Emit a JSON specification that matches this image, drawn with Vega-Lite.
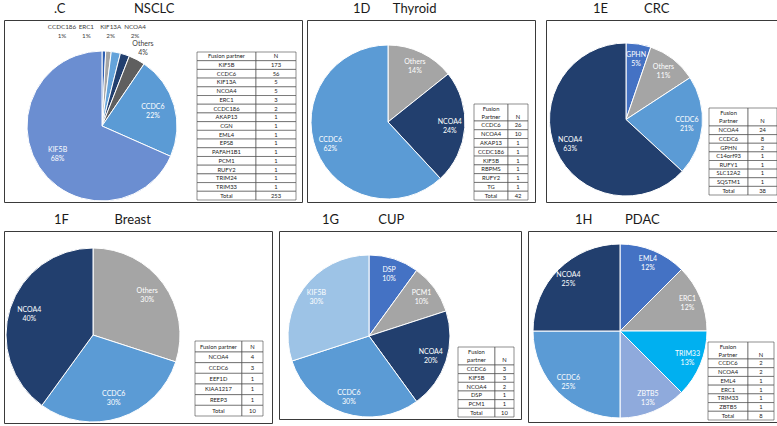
{
"$schema":"https://vega.github.io/schema/vega-lite/v6.json",
"padding":{"left":3,"top":2,"right":0,"bottom":0},
"background":"white",
"datasets":{
"nsclc":[{"partner":"CCDC186","n":2,"pct":"1%","ord":1},{"partner":"ERC1","n":3,"pct":"1%","ord":2},{"partner":"KIF13A","n":5,"pct":"2%","ord":3},{"partner":"NCOA4","n":5,"pct":"2%","ord":4},{"partner":"Others","n":9,"pct":"4%","ord":5},{"partner":"CCDC6","n":56,"pct":"22%","ord":6},{"partner":"KIF5B","n":173,"pct":"68%","ord":7}],
"nsclc_tab":[{"p":"KIF5B","n":"173"},{"p":"CCDC6","n":"56"},{"p":"KIF13A","n":"5"},{"p":"NCOA4","n":"5"},{"p":"ERC1","n":"3"},{"p":"CCDC186","n":"2"},{"p":"AKAP13","n":"1"},{"p":"CGN","n":"1"},{"p":"EML4","n":"1"},{"p":"EPS8","n":"1"},{"p":"PAFAH1B1","n":"1"},{"p":"PCM1","n":"1"},{"p":"RUFY2","n":"1"},{"p":"TRIM24","n":"1"},{"p":"TRIM33","n":"1"},{"p":"Total","n":"253"}],
"thy":[{"partner":"Others","n":6,"pct":"14%","ord":1},{"partner":"NCOA4","n":10,"pct":"24%","ord":2},{"partner":"CCDC6","n":26,"pct":"62%","ord":3}],
"thy_tab":[{"p":"CCDC6","n":"26"},{"p":"NCOA4","n":"10"},{"p":"AKAP13","n":"1"},{"p":"CCDC186","n":"1"},{"p":"KIF5B","n":"1"},{"p":"RBPMS","n":"1"},{"p":"RUFY2","n":"1"},{"p":"TG","n":"1"},{"p":"Total","n":"42"}],
"crc":[{"partner":"GPHN","n":2,"pct":"5%","ord":1},{"partner":"Others","n":4,"pct":"11%","ord":2},{"partner":"CCDC6","n":8,"pct":"21%","ord":3},{"partner":"NCOA4","n":24,"pct":"63%","ord":4}],
"crc_tab":[{"p":"NCOA4","n":"24"},{"p":"CCDC6","n":"8"},{"p":"GPHN","n":"2"},{"p":"C14orf93","n":"1"},{"p":"RUFY1","n":"1"},{"p":"SLC12A2","n":"1"},{"p":"SQSTM1","n":"1"},{"p":"Total","n":"38"}],
"br":[{"partner":"Others","n":3,"pct":"30%","ord":1},{"partner":"CCDC6","n":3,"pct":"30%","ord":2},{"partner":"NCOA4","n":4,"pct":"40%","ord":3}],
"br_tab":[{"p":"NCOA4","n":"4"},{"p":"CCDC6","n":"3"},{"p":"EEF1D","n":"1"},{"p":"KIAA1217","n":"1"},{"p":"REEP3","n":"1"},{"p":"Total","n":"10"}],
"cup":[{"partner":"DSP","n":1,"pct":"10%","ord":1},{"partner":"PCM1","n":1,"pct":"10%","ord":2},{"partner":"NCOA4","n":2,"pct":"20%","ord":3},{"partner":"CCDC6","n":3,"pct":"30%","ord":4},{"partner":"KIF5B","n":3,"pct":"30%","ord":5}],
"cup_tab":[{"p":"CCDC6","n":"3"},{"p":"KIF5B","n":"3"},{"p":"NCOA4","n":"2"},{"p":"DSP","n":"1"},{"p":"PCM1","n":"1"},{"p":"Total","n":"10"}],
"pdac":[{"partner":"EML4","n":1,"pct":"12%","ord":1},{"partner":"ERC1","n":1,"pct":"12%","ord":2},{"partner":"TRIM33","n":1,"pct":"13%","ord":3},{"partner":"ZBTB5","n":1,"pct":"13%","ord":4},{"partner":"CCDC6","n":2,"pct":"25%","ord":5},{"partner":"NCOA4","n":2,"pct":"25%","ord":6}],
"pdac_tab":[{"p":"CCDC6","n":"2"},{"p":"NCOA4","n":"2"},{"p":"EML4","n":"1"},{"p":"ERC1","n":"1"},{"p":"TRIM33","n":"1"},{"p":"ZBTB5","n":"1"},{"p":"Total","n":"8"}],
"hdr1":[{"h1":"Fusion partner","n":"N"}],
"hdr2":[{"h1":"Fusion","h2":"Partner","n":"N"}],
"hdr2l":[{"h1":"Fusion","h2":"partner","n":"N"}]
},
"vconcat":[
{"hconcat":[
 {"width":298,"height":182,
  "title":{"text":".C\u2003\u2003\u2003\u2003\u2003\u2003\u00a0\u00a0\u00a0NSCLC","dx":50},
  "layer":[
   {"data":{"name":"nsclc"},"mark":{"type":"arc","x":98,"y":106,"outerRadius":75},
    "encoding":{"theta":{"field":"n","type":"quantitative","stack":true},"order":{"field":"ord","type":"quantitative"},
     "color":{"field":"partner","type":"nominal","legend":null,"scale":{"domain":["CCDC186","ERC1","KIF13A","NCOA4","Others","CCDC6","KIF5B"],"range":["#2E5FB3","#A5A5A5","#64A3DA","#223F6E","#5F5F5F","#5B9BD5","#6B8ED1"]}}}},
   {"data":{"name":"nsclc"},"mark":{"type":"text","x":98,"y":106,"radius":53,"dy":-4.5,"fill":"white","fontSize":7},
    "encoding":{"theta":{"field":"n","type":"quantitative","stack":true},"order":{"field":"ord","type":"quantitative"},"text":{"condition":{"test":"datum.n >= 50","field":"partner","type":"nominal"},"value":""}}},
   {"data":{"name":"nsclc"},"mark":{"type":"text","x":98,"y":106,"radius":53,"dy":4.5,"fill":"white","fontSize":7},
    "encoding":{"theta":{"field":"n","type":"quantitative","stack":true},"order":{"field":"ord","type":"quantitative"},"text":{"condition":{"test":"datum.n >= 50","field":"pct","type":"nominal"},"value":""}}},
   {"data":{"name":"nsclc"},"mark":{"type":"text","x":98,"y":106,"radius":88,"dy":-4.5,"fill":"#404040","fontSize":7},
    "encoding":{"theta":{"field":"n","type":"quantitative","stack":true},"order":{"field":"ord","type":"quantitative"},"text":{"condition":{"test":"datum.partner == 'Others'","field":"partner","type":"nominal"},"value":""}}},
   {"data":{"name":"nsclc"},"mark":{"type":"text","x":98,"y":106,"radius":88,"dy":4.5,"fill":"#404040","fontSize":7},
    "encoding":{"theta":{"field":"n","type":"quantitative","stack":true},"order":{"field":"ord","type":"quantitative"},"text":{"condition":{"test":"datum.partner == 'Others'","field":"pct","type":"nominal"},"value":""}}},
   {"data":{"name":"nsclc"},"transform":[{"filter":"datum.ord <= 4"}],"mark":{"type":"text","y":7,"fill":"#404040","fontSize":6.3},
    "encoding":{"x":{"field":"partner","type":"nominal","sort":null,"scale":{"type":"point","range":[58,131],"padding":0},"axis":null},"text":{"field":"partner"}}},
   {"data":{"name":"nsclc"},"transform":[{"filter":"datum.ord <= 4"}],"mark":{"type":"text","y":15.5,"fill":"#404040","fontSize":6.3},
    "encoding":{"x":{"field":"partner","type":"nominal","sort":null,"scale":{"type":"point","range":[58,131],"padding":0},"axis":null},"text":{"field":"pct"}}},
   {"data":{"name":"hdr1"},"mark":"rect","encoding":{"x":{"datum":0,"type":"quantitative","scale":{"domain":[0,1],"range":[193,292]},"axis":null},"x2":{"datum":0.596},"y":{"datum":0,"type":"quantitative","scale":{"domain":[0,1],"range":[32,40.7]},"axis":null},"y2":{"datum":1}}},
   {"data":{"name":"hdr1"},"mark":"rect","encoding":{"x":{"datum":0.596,"type":"quantitative","scale":{"domain":[0,1],"range":[193,292]},"axis":null},"x2":{"datum":1},"y":{"datum":0,"type":"quantitative","scale":{"domain":[0,1],"range":[32,40.7]},"axis":null},"y2":{"datum":1}}},
   {"data":{"name":"hdr1"},"mark":"text","encoding":{"x":{"datum":0.298,"type":"quantitative","scale":{"domain":[0,1],"range":[193,292]},"axis":null},"y":{"datum":0.5,"type":"quantitative","scale":{"domain":[0,1],"range":[32,40.7]},"axis":null},"text":{"field":"h1"}}},
   {"data":{"name":"hdr1"},"mark":"text","encoding":{"x":{"datum":0.798,"type":"quantitative","scale":{"domain":[0,1],"range":[193,292]},"axis":null},"y":{"datum":0.5,"type":"quantitative","scale":{"domain":[0,1],"range":[32,40.7]},"axis":null},"text":{"field":"n"}}},
   {"data":{"name":"nsclc_tab"},"mark":"rect","encoding":{"x":{"datum":0,"type":"quantitative","scale":{"domain":[0,1],"range":[193,292]},"axis":null},"x2":{"datum":0.596},"y":{"field":"p","type":"nominal","sort":null,"scale":{"type":"band","range":[40.7,180],"paddingInner":0,"paddingOuter":0},"axis":null}}},
   {"data":{"name":"nsclc_tab"},"mark":"rect","encoding":{"x":{"datum":0.596,"type":"quantitative","scale":{"domain":[0,1],"range":[193,292]},"axis":null},"x2":{"datum":1},"y":{"field":"p","type":"nominal","sort":null,"scale":{"type":"band","range":[40.7,180],"paddingInner":0,"paddingOuter":0},"axis":null}}},
   {"data":{"name":"nsclc_tab"},"mark":"text","encoding":{"x":{"datum":0.298,"type":"quantitative","scale":{"domain":[0,1],"range":[193,292]},"axis":null},"y":{"field":"p","type":"nominal","sort":null,"scale":{"type":"band","range":[40.7,180],"paddingInner":0,"paddingOuter":0},"axis":null},"text":{"field":"p"}}},
   {"data":{"name":"nsclc_tab"},"mark":"text","encoding":{"x":{"datum":0.798,"type":"quantitative","scale":{"domain":[0,1],"range":[193,292]},"axis":null},"y":{"field":"p","type":"nominal","sort":null,"scale":{"type":"band","range":[40.7,180],"paddingInner":0,"paddingOuter":0},"axis":null},"text":{"field":"n"}}}
  ],
  "resolve":{"scale":{"x":"independent","y":"independent"}}
 },
 {"hconcat":[
  {"width":228,"height":182,
   "title":{"text":"1D\u2003\u2003\u00a0Thyroid","dx":46},
   "layer":[
    {"data":{"name":"thy"},"mark":{"type":"arc","x":81,"y":102,"outerRadius":77},
     "encoding":{"theta":{"field":"n","type":"quantitative","stack":true},"order":{"field":"ord","type":"quantitative"},
      "color":{"field":"partner","type":"nominal","legend":null,"scale":{"domain":["Others","NCOA4","CCDC6"],"range":["#A5A5A5","#223F6E","#5B9BD5"]}}}},
    {"data":{"name":"thy"},"mark":{"type":"text","x":81,"y":102,"radius":62,"dy":-4.5,"fill":"white","fontSize":7},
     "encoding":{"theta":{"field":"n","type":"quantitative","stack":true},"order":{"field":"ord","type":"quantitative"},"text":{"field":"partner"}}},
    {"data":{"name":"thy"},"mark":{"type":"text","x":81,"y":102,"radius":62,"dy":4.5,"fill":"white","fontSize":7},
     "encoding":{"theta":{"field":"n","type":"quantitative","stack":true},"order":{"field":"ord","type":"quantitative"},"text":{"field":"pct"}}},
    {"data":{"name":"hdr2"},"mark":"rect","encoding":{"x":{"datum":0,"type":"quantitative","scale":{"domain":[0,1],"range":[167,221]},"axis":null},"x2":{"datum":0.63},"y":{"datum":0,"type":"quantitative","scale":{"domain":[0,1],"range":[84,101]},"axis":null},"y2":{"datum":1}}},
    {"data":{"name":"hdr2"},"mark":"rect","encoding":{"x":{"datum":0.63,"type":"quantitative","scale":{"domain":[0,1],"range":[167,221]},"axis":null},"x2":{"datum":1},"y":{"datum":0,"type":"quantitative","scale":{"domain":[0,1],"range":[84,101]},"axis":null},"y2":{"datum":1}}},
    {"data":{"name":"hdr2"},"mark":"text","encoding":{"x":{"datum":0.315,"type":"quantitative","scale":{"domain":[0,1],"range":[167,221]},"axis":null},"y":{"datum":0.27,"type":"quantitative","scale":{"domain":[0,1],"range":[84,101]},"axis":null},"text":{"field":"h1"}}},
    {"data":{"name":"hdr2"},"mark":"text","encoding":{"x":{"datum":0.315,"type":"quantitative","scale":{"domain":[0,1],"range":[167,221]},"axis":null},"y":{"datum":0.74,"type":"quantitative","scale":{"domain":[0,1],"range":[84,101]},"axis":null},"text":{"field":"h2"}}},
    {"data":{"name":"hdr2"},"mark":"text","encoding":{"x":{"datum":0.815,"type":"quantitative","scale":{"domain":[0,1],"range":[167,221]},"axis":null},"y":{"datum":0.74,"type":"quantitative","scale":{"domain":[0,1],"range":[84,101]},"axis":null},"text":{"field":"n"}}},
    {"data":{"name":"thy_tab"},"mark":"rect","encoding":{"x":{"datum":0,"type":"quantitative","scale":{"domain":[0,1],"range":[167,221]},"axis":null},"x2":{"datum":0.63},"y":{"field":"p","type":"nominal","sort":null,"scale":{"type":"band","range":[101,180],"paddingInner":0,"paddingOuter":0},"axis":null}}},
    {"data":{"name":"thy_tab"},"mark":"rect","encoding":{"x":{"datum":0.63,"type":"quantitative","scale":{"domain":[0,1],"range":[167,221]},"axis":null},"x2":{"datum":1},"y":{"field":"p","type":"nominal","sort":null,"scale":{"type":"band","range":[101,180],"paddingInner":0,"paddingOuter":0},"axis":null}}},
    {"data":{"name":"thy_tab"},"mark":"text","encoding":{"x":{"datum":0.315,"type":"quantitative","scale":{"domain":[0,1],"range":[167,221]},"axis":null},"y":{"field":"p","type":"nominal","sort":null,"scale":{"type":"band","range":[101,180],"paddingInner":0,"paddingOuter":0},"axis":null},"text":{"field":"p"}}},
    {"data":{"name":"thy_tab"},"mark":"text","encoding":{"x":{"datum":0.815,"type":"quantitative","scale":{"domain":[0,1],"range":[167,221]},"axis":null},"y":{"field":"p","type":"nominal","sort":null,"scale":{"type":"band","range":[101,180],"paddingInner":0,"paddingOuter":0},"axis":null},"text":{"field":"n"}}}
   ],
   "resolve":{"scale":{"x":"independent","y":"independent"}}
  },
  {"width":235,"height":182,
   "title":{"text":"1E\u2003\u2003\u2003\u00a0\u00a0CRC","dx":47},
   "layer":[
    {"data":{"name":"crc"},"mark":{"type":"arc","x":80,"y":99.5,"outerRadius":76.5},
     "encoding":{"theta":{"field":"n","type":"quantitative","stack":true},"order":{"field":"ord","type":"quantitative"},
      "color":{"field":"partner","type":"nominal","legend":null,"scale":{"domain":["GPHN","Others","CCDC6","NCOA4"],"range":["#4472C4","#A5A5A5","#5B9BD5","#223F6E"]}}}},
    {"data":{"name":"crc"},"mark":{"type":"text","x":80,"y":99.5,"radius":61,"dy":-4.5,"fill":"white","fontSize":7},
     "encoding":{"theta":{"field":"n","type":"quantitative","stack":true},"order":{"field":"ord","type":"quantitative"},"text":{"field":"partner"}}},
    {"data":{"name":"crc"},"mark":{"type":"text","x":80,"y":99.5,"radius":61,"dy":4.5,"fill":"white","fontSize":7},
     "encoding":{"theta":{"field":"n","type":"quantitative","stack":true},"order":{"field":"ord","type":"quantitative"},"text":{"field":"pct"}}},
    {"data":{"name":"hdr2"},"mark":"rect","encoding":{"x":{"datum":0,"type":"quantitative","scale":{"domain":[0,1],"range":[163,231]},"axis":null},"x2":{"datum":0.574},"y":{"datum":0,"type":"quantitative","scale":{"domain":[0,1],"range":[88,106]},"axis":null},"y2":{"datum":1}}},
    {"data":{"name":"hdr2"},"mark":"rect","encoding":{"x":{"datum":0.574,"type":"quantitative","scale":{"domain":[0,1],"range":[163,231]},"axis":null},"x2":{"datum":1},"y":{"datum":0,"type":"quantitative","scale":{"domain":[0,1],"range":[88,106]},"axis":null},"y2":{"datum":1}}},
    {"data":{"name":"hdr2"},"mark":"text","encoding":{"x":{"datum":0.287,"type":"quantitative","scale":{"domain":[0,1],"range":[163,231]},"axis":null},"y":{"datum":0.27,"type":"quantitative","scale":{"domain":[0,1],"range":[88,106]},"axis":null},"text":{"field":"h1"}}},
    {"data":{"name":"hdr2"},"mark":"text","encoding":{"x":{"datum":0.287,"type":"quantitative","scale":{"domain":[0,1],"range":[163,231]},"axis":null},"y":{"datum":0.74,"type":"quantitative","scale":{"domain":[0,1],"range":[88,106]},"axis":null},"text":{"field":"h2"}}},
    {"data":{"name":"hdr2"},"mark":"text","encoding":{"x":{"datum":0.787,"type":"quantitative","scale":{"domain":[0,1],"range":[163,231]},"axis":null},"y":{"datum":0.74,"type":"quantitative","scale":{"domain":[0,1],"range":[88,106]},"axis":null},"text":{"field":"n"}}},
    {"data":{"name":"crc_tab"},"mark":"rect","encoding":{"x":{"datum":0,"type":"quantitative","scale":{"domain":[0,1],"range":[163,231]},"axis":null},"x2":{"datum":0.574},"y":{"field":"p","type":"nominal","sort":null,"scale":{"type":"band","range":[106,175],"paddingInner":0,"paddingOuter":0},"axis":null}}},
    {"data":{"name":"crc_tab"},"mark":"rect","encoding":{"x":{"datum":0.574,"type":"quantitative","scale":{"domain":[0,1],"range":[163,231]},"axis":null},"x2":{"datum":1},"y":{"field":"p","type":"nominal","sort":null,"scale":{"type":"band","range":[106,175],"paddingInner":0,"paddingOuter":0},"axis":null}}},
    {"data":{"name":"crc_tab"},"mark":"text","encoding":{"x":{"datum":0.287,"type":"quantitative","scale":{"domain":[0,1],"range":[163,231]},"axis":null},"y":{"field":"p","type":"nominal","sort":null,"scale":{"type":"band","range":[106,175],"paddingInner":0,"paddingOuter":0},"axis":null},"text":{"field":"p"}}},
    {"data":{"name":"crc_tab"},"mark":"text","encoding":{"x":{"datum":0.787,"type":"quantitative","scale":{"domain":[0,1],"range":[163,231]},"axis":null},"y":{"field":"p","type":"nominal","sort":null,"scale":{"type":"band","range":[106,175],"paddingInner":0,"paddingOuter":0},"axis":null},"text":{"field":"n"}}}
   ],
   "resolve":{"scale":{"x":"independent","y":"independent"}}
  }
 ],"spacing":9,"resolve":{"scale":{"color":"independent","theta":"independent"}}}
],"spacing":3,"resolve":{"scale":{"color":"independent","theta":"independent"}}},
{"hconcat":[
 {"width":268,"height":192,
  "title":{"text":"1F\u2003\u2003\u2003\u2003\u00a0\u00a0Breast","dx":50},
  "layer":[
   {"data":{"name":"br"},"mark":{"type":"arc","x":89,"y":104,"outerRadius":87},
    "encoding":{"theta":{"field":"n","type":"quantitative","stack":true},"order":{"field":"ord","type":"quantitative"},
     "color":{"field":"partner","type":"nominal","legend":null,"scale":{"domain":["Others","CCDC6","NCOA4"],"range":["#A5A5A5","#5B9BD5","#223F6E"]}}}},
   {"data":{"name":"br"},"mark":{"type":"text","x":89,"y":104,"radius":67,"dy":-4.5,"fill":"white","fontSize":7},
    "encoding":{"theta":{"field":"n","type":"quantitative","stack":true},"order":{"field":"ord","type":"quantitative"},"text":{"field":"partner"}}},
   {"data":{"name":"br"},"mark":{"type":"text","x":89,"y":104,"radius":67,"dy":4.5,"fill":"white","fontSize":7},
    "encoding":{"theta":{"field":"n","type":"quantitative","stack":true},"order":{"field":"ord","type":"quantitative"},"text":{"field":"pct"}}},
   {"data":{"name":"hdr1"},"mark":"rect","encoding":{"x":{"datum":0,"type":"quantitative","scale":{"domain":[0,1],"range":[191,259]},"axis":null},"x2":{"datum":0.69},"y":{"datum":0,"type":"quantitative","scale":{"domain":[0,1],"range":[110,121]},"axis":null},"y2":{"datum":1}}},
   {"data":{"name":"hdr1"},"mark":"rect","encoding":{"x":{"datum":0.69,"type":"quantitative","scale":{"domain":[0,1],"range":[191,259]},"axis":null},"x2":{"datum":1},"y":{"datum":0,"type":"quantitative","scale":{"domain":[0,1],"range":[110,121]},"axis":null},"y2":{"datum":1}}},
   {"data":{"name":"hdr1"},"mark":"text","encoding":{"x":{"datum":0.345,"type":"quantitative","scale":{"domain":[0,1],"range":[191,259]},"axis":null},"y":{"datum":0.5,"type":"quantitative","scale":{"domain":[0,1],"range":[110,121]},"axis":null},"text":{"field":"h1"}}},
   {"data":{"name":"hdr1"},"mark":"text","encoding":{"x":{"datum":0.845,"type":"quantitative","scale":{"domain":[0,1],"range":[191,259]},"axis":null},"y":{"datum":0.5,"type":"quantitative","scale":{"domain":[0,1],"range":[110,121]},"axis":null},"text":{"field":"n"}}},
   {"data":{"name":"br_tab"},"mark":"rect","encoding":{"x":{"datum":0,"type":"quantitative","scale":{"domain":[0,1],"range":[191,259]},"axis":null},"x2":{"datum":0.69},"y":{"field":"p","type":"nominal","sort":null,"scale":{"type":"band","range":[121,185],"paddingInner":0,"paddingOuter":0},"axis":null}}},
   {"data":{"name":"br_tab"},"mark":"rect","encoding":{"x":{"datum":0.69,"type":"quantitative","scale":{"domain":[0,1],"range":[191,259]},"axis":null},"x2":{"datum":1},"y":{"field":"p","type":"nominal","sort":null,"scale":{"type":"band","range":[121,185],"paddingInner":0,"paddingOuter":0},"axis":null}}},
   {"data":{"name":"br_tab"},"mark":"text","encoding":{"x":{"datum":0.345,"type":"quantitative","scale":{"domain":[0,1],"range":[191,259]},"axis":null},"y":{"field":"p","type":"nominal","sort":null,"scale":{"type":"band","range":[121,185],"paddingInner":0,"paddingOuter":0},"axis":null},"text":{"field":"p"}}},
   {"data":{"name":"br_tab"},"mark":"text","encoding":{"x":{"datum":0.845,"type":"quantitative","scale":{"domain":[0,1],"range":[191,259]},"axis":null},"y":{"field":"p","type":"nominal","sort":null,"scale":{"type":"band","range":[121,185],"paddingInner":0,"paddingOuter":0},"axis":null},"text":{"field":"n"}}}
  ],
  "resolve":{"scale":{"x":"independent","y":"independent"}}
 },
 {"width":242,"height":188,
  "title":{"text":"1G\u2003\u2003\u2003\u00a0\u00a0\u00a0CUP","dx":43},
  "layer":[
   {"data":{"name":"cup"},"mark":{"type":"arc","x":90,"y":105,"outerRadius":81},
    "encoding":{"theta":{"field":"n","type":"quantitative","stack":true},"order":{"field":"ord","type":"quantitative"},
     "color":{"field":"partner","type":"nominal","legend":null,"scale":{"domain":["DSP","PCM1","NCOA4","CCDC6","KIF5B"],"range":["#4472C4","#A5A5A5","#223F6E","#5B9BD5","#9DC3E6"]}}}},
   {"data":{"name":"cup"},"mark":{"type":"text","x":90,"y":105,"radius":65,"dy":-4.5,"fill":"white","fontSize":7},
    "encoding":{"theta":{"field":"n","type":"quantitative","stack":true},"order":{"field":"ord","type":"quantitative"},"text":{"field":"partner"}}},
   {"data":{"name":"cup"},"mark":{"type":"text","x":90,"y":105,"radius":65,"dy":4.5,"fill":"white","fontSize":7},
    "encoding":{"theta":{"field":"n","type":"quantitative","stack":true},"order":{"field":"ord","type":"quantitative"},"text":{"field":"pct"}}},
   {"data":{"name":"hdr2l"},"mark":"rect","encoding":{"x":{"datum":0,"type":"quantitative","scale":{"domain":[0,1],"range":[179,235]},"axis":null},"x2":{"datum":0.66},"y":{"datum":0,"type":"quantitative","scale":{"domain":[0,1],"range":[116,134]},"axis":null},"y2":{"datum":1}}},
   {"data":{"name":"hdr2l"},"mark":"rect","encoding":{"x":{"datum":0.66,"type":"quantitative","scale":{"domain":[0,1],"range":[179,235]},"axis":null},"x2":{"datum":1},"y":{"datum":0,"type":"quantitative","scale":{"domain":[0,1],"range":[116,134]},"axis":null},"y2":{"datum":1}}},
   {"data":{"name":"hdr2l"},"mark":"text","encoding":{"x":{"datum":0.33,"type":"quantitative","scale":{"domain":[0,1],"range":[179,235]},"axis":null},"y":{"datum":0.27,"type":"quantitative","scale":{"domain":[0,1],"range":[116,134]},"axis":null},"text":{"field":"h1"}}},
   {"data":{"name":"hdr2l"},"mark":"text","encoding":{"x":{"datum":0.33,"type":"quantitative","scale":{"domain":[0,1],"range":[179,235]},"axis":null},"y":{"datum":0.74,"type":"quantitative","scale":{"domain":[0,1],"range":[116,134]},"axis":null},"text":{"field":"h2"}}},
   {"data":{"name":"hdr2l"},"mark":"text","encoding":{"x":{"datum":0.83,"type":"quantitative","scale":{"domain":[0,1],"range":[179,235]},"axis":null},"y":{"datum":0.74,"type":"quantitative","scale":{"domain":[0,1],"range":[116,134]},"axis":null},"text":{"field":"n"}}},
   {"data":{"name":"cup_tab"},"mark":"rect","encoding":{"x":{"datum":0,"type":"quantitative","scale":{"domain":[0,1],"range":[179,235]},"axis":null},"x2":{"datum":0.66},"y":{"field":"p","type":"nominal","sort":null,"scale":{"type":"band","range":[134,186],"paddingInner":0,"paddingOuter":0},"axis":null}}},
   {"data":{"name":"cup_tab"},"mark":"rect","encoding":{"x":{"datum":0.66,"type":"quantitative","scale":{"domain":[0,1],"range":[179,235]},"axis":null},"x2":{"datum":1},"y":{"field":"p","type":"nominal","sort":null,"scale":{"type":"band","range":[134,186],"paddingInner":0,"paddingOuter":0},"axis":null}}},
   {"data":{"name":"cup_tab"},"mark":"text","encoding":{"x":{"datum":0.33,"type":"quantitative","scale":{"domain":[0,1],"range":[179,235]},"axis":null},"y":{"field":"p","type":"nominal","sort":null,"scale":{"type":"band","range":[134,186],"paddingInner":0,"paddingOuter":0},"axis":null},"text":{"field":"p"}}},
   {"data":{"name":"cup_tab"},"mark":"text","encoding":{"x":{"datum":0.83,"type":"quantitative","scale":{"domain":[0,1],"range":[179,235]},"axis":null},"y":{"field":"p","type":"nominal","sort":null,"scale":{"type":"band","range":[134,186],"paddingInner":0,"paddingOuter":0},"axis":null},"text":{"field":"n"}}}
  ],
  "resolve":{"scale":{"x":"independent","y":"independent"}}
 },
 {"width":249,"height":191,
  "title":{"text":"1H\u2003\u2003\u2003\u00a0PDAC","dx":47},
  "layer":[
   {"data":{"name":"pdac"},"mark":{"type":"arc","x":92,"y":100,"outerRadius":87},
    "encoding":{"theta":{"field":"n","type":"quantitative","stack":true},"order":{"field":"ord","type":"quantitative"},
     "color":{"field":"partner","type":"nominal","legend":null,"scale":{"domain":["EML4","ERC1","TRIM33","ZBTB5","CCDC6","NCOA4"],"range":["#4472C4","#A5A5A5","#00B0F0","#8FAADC","#5B9BD5","#223F6E"]}}}},
   {"data":{"name":"pdac"},"mark":{"type":"text","x":92,"y":100,"radius":73,"dy":-4.5,"fill":"white","fontSize":7},
    "encoding":{"theta":{"field":"n","type":"quantitative","stack":true},"order":{"field":"ord","type":"quantitative"},"text":{"field":"partner"}}},
   {"data":{"name":"pdac"},"mark":{"type":"text","x":92,"y":100,"radius":73,"dy":4.5,"fill":"white","fontSize":7},
    "encoding":{"theta":{"field":"n","type":"quantitative","stack":true},"order":{"field":"ord","type":"quantitative"},"text":{"field":"pct"}}},
   {"data":{"name":"hdr2"},"mark":"rect","encoding":{"x":{"datum":0,"type":"quantitative","scale":{"domain":[0,1],"range":[180,246]},"axis":null},"x2":{"datum":0.606},"y":{"datum":0,"type":"quantitative","scale":{"domain":[0,1],"range":[111,128]},"axis":null},"y2":{"datum":1}}},
   {"data":{"name":"hdr2"},"mark":"rect","encoding":{"x":{"datum":0.606,"type":"quantitative","scale":{"domain":[0,1],"range":[180,246]},"axis":null},"x2":{"datum":1},"y":{"datum":0,"type":"quantitative","scale":{"domain":[0,1],"range":[111,128]},"axis":null},"y2":{"datum":1}}},
   {"data":{"name":"hdr2"},"mark":"text","encoding":{"x":{"datum":0.303,"type":"quantitative","scale":{"domain":[0,1],"range":[180,246]},"axis":null},"y":{"datum":0.27,"type":"quantitative","scale":{"domain":[0,1],"range":[111,128]},"axis":null},"text":{"field":"h1"}}},
   {"data":{"name":"hdr2"},"mark":"text","encoding":{"x":{"datum":0.303,"type":"quantitative","scale":{"domain":[0,1],"range":[180,246]},"axis":null},"y":{"datum":0.74,"type":"quantitative","scale":{"domain":[0,1],"range":[111,128]},"axis":null},"text":{"field":"h2"}}},
   {"data":{"name":"hdr2"},"mark":"text","encoding":{"x":{"datum":0.803,"type":"quantitative","scale":{"domain":[0,1],"range":[180,246]},"axis":null},"y":{"datum":0.74,"type":"quantitative","scale":{"domain":[0,1],"range":[111,128]},"axis":null},"text":{"field":"n"}}},
   {"data":{"name":"pdac_tab"},"mark":"rect","encoding":{"x":{"datum":0,"type":"quantitative","scale":{"domain":[0,1],"range":[180,246]},"axis":null},"x2":{"datum":0.606},"y":{"field":"p","type":"nominal","sort":null,"scale":{"type":"band","range":[128,189],"paddingInner":0,"paddingOuter":0},"axis":null}}},
   {"data":{"name":"pdac_tab"},"mark":"rect","encoding":{"x":{"datum":0.606,"type":"quantitative","scale":{"domain":[0,1],"range":[180,246]},"axis":null},"x2":{"datum":1},"y":{"field":"p","type":"nominal","sort":null,"scale":{"type":"band","range":[128,189],"paddingInner":0,"paddingOuter":0},"axis":null}}},
   {"data":{"name":"pdac_tab"},"mark":"text","encoding":{"x":{"datum":0.303,"type":"quantitative","scale":{"domain":[0,1],"range":[180,246]},"axis":null},"y":{"field":"p","type":"nominal","sort":null,"scale":{"type":"band","range":[128,189],"paddingInner":0,"paddingOuter":0},"axis":null},"text":{"field":"p"}}},
   {"data":{"name":"pdac_tab"},"mark":"text","encoding":{"x":{"datum":0.803,"type":"quantitative","scale":{"domain":[0,1],"range":[180,246]},"axis":null},"y":{"field":"p","type":"nominal","sort":null,"scale":{"type":"band","range":[128,189],"paddingInner":0,"paddingOuter":0},"axis":null},"text":{"field":"n"}}}
  ],
  "resolve":{"scale":{"x":"independent","y":"independent"}}
 }
],"spacing":5,"resolve":{"scale":{"color":"independent","theta":"independent"}}}
],
"spacing":9,
"resolve":{"scale":{"color":"independent","theta":"independent"}},
"config":{
 "view":{"stroke":"#3a3a3a","strokeWidth":1},
 "title":{"font":"Lato","fontSize":13,"fontWeight":"normal","anchor":"start","frame":"group","offset":0,"color":"#1a1a1a"},
 "text":{"font":"Lato","fontSize":5.8,"fill":"#222","baseline":"middle"},
 "rect":{"fill":"white","stroke":"#444","strokeWidth":0.6},
 "arc":{"stroke":"white","strokeWidth":1}
}
}
